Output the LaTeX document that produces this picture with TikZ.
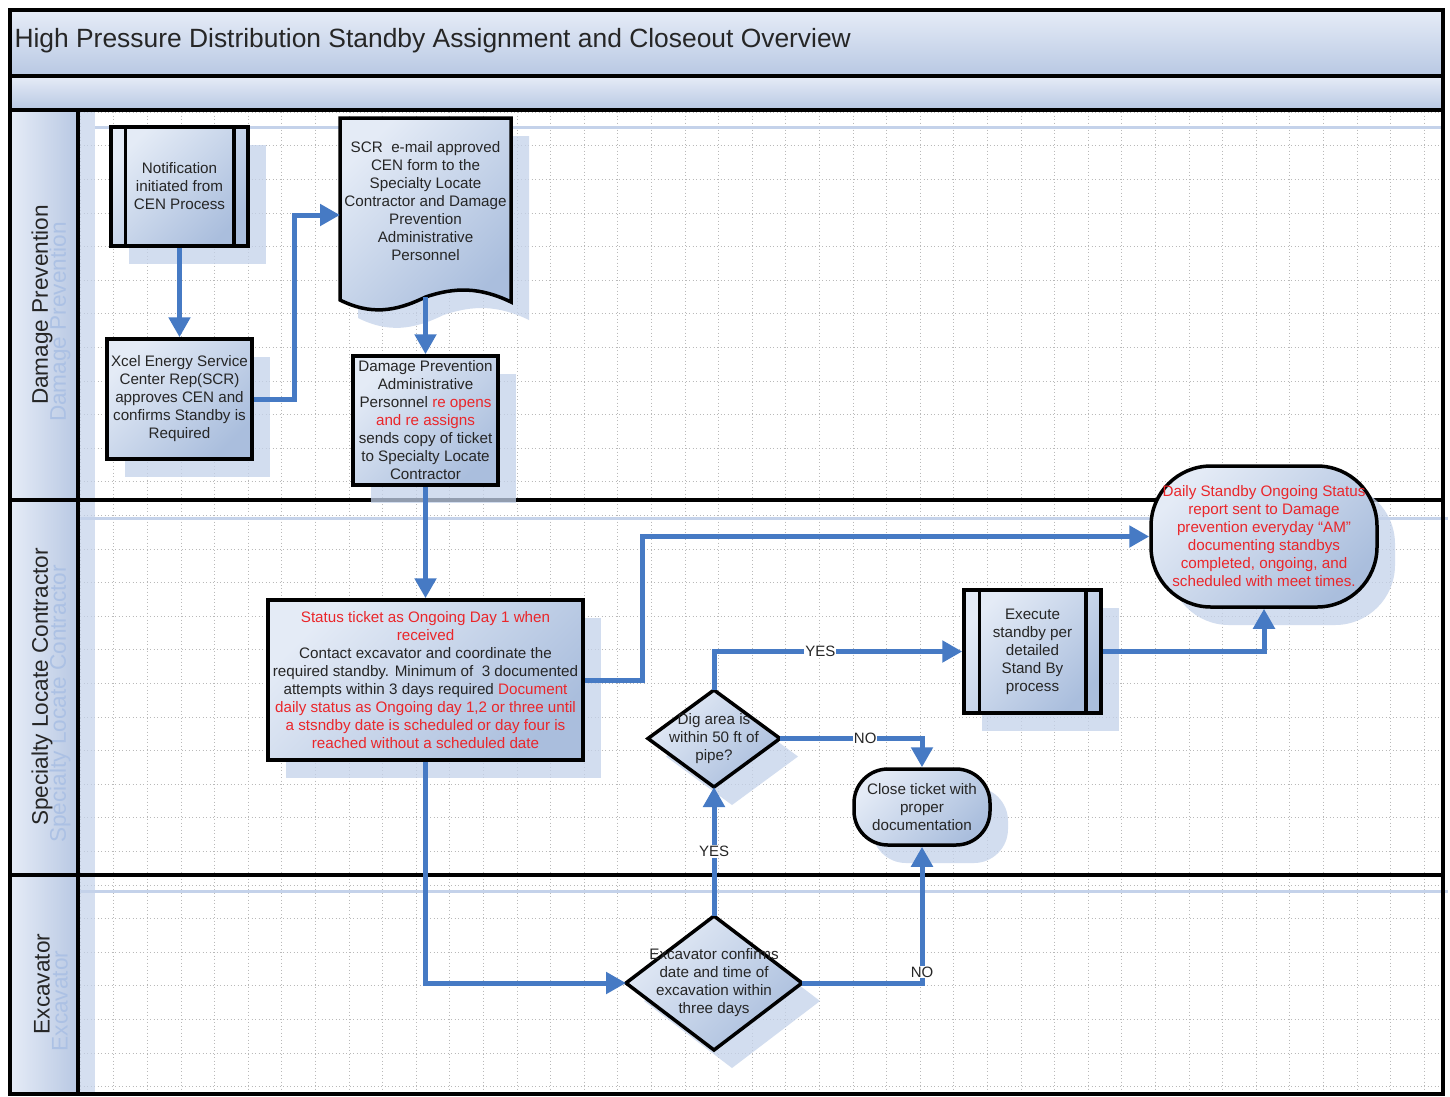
\documentclass[tikz,border=0pt]{standalone}
\usepackage{fontspec}
\setmainfont{Liberation Sans}
\usetikzlibrary{arrows.meta,shadows,calc}
\pgfdeclarelayer{bg}
\pgfdeclarelayer{mid}
\pgfsetlayers{bg,mid,main}
\definecolor{nlight}{RGB}{228,235,246}
\definecolor{ndark}{RGB}{170,190,221}
\definecolor{arrowc}{RGB}{70,122,196}
\definecolor{redt}{RGB}{234,38,42}
\definecolor{shadowc}{RGB}{196,210,234}
\definecolor{shadowtxt}{RGB}{172,193,228}
\definecolor{gridc}{RGB}{185,185,185}
\definecolor{bandlight}{RGB}{230,236,247}
\definecolor{banddark}{RGB}{184,200,227}
\tikzset{
  txt/.style={font=\fontsize{15.2}{18}\selectfont, align=center, text=black!85},
  fillshape/.style={draw=black, line width=3.5pt, top color=nlight, bottom color=ndark, shading angle=45},
  nshadow/.style={drop shadow={shadow xshift=18pt, shadow yshift=-18pt, fill=shadowc, opacity=.75}},
  boxnode/.style={txt, fillshape, nshadow, rectangle, inner sep=0pt},
  plainnode/.style={txt, rectangle, inner sep=0pt, outer sep=0pt},
  procline/.style={draw=black, line width=3.5pt},
  flow/.style={draw=arrowc, line width=5pt, -{Triangle[length=20pt,width=21pt]}},
  lbl/.style={font=\fontsize{15}{16}\selectfont, fill=white, inner sep=1pt, text=black!85},
  band/.style={draw=black, line width=3.5pt, top color=bandlight, bottom color=banddark},
  lanecell/.style={draw=black, line width=3.5pt, left color=bandlight, right color=banddark},
  lanebox/.style={draw=black, line width=3.5pt},
  lanetxt/.style={font=\fontsize{22.6}{26}\selectfont, rotate=90, text=black!85},
  laneshadowtxt/.style={font=\fontsize{22.6}{26}\selectfont, rotate=90, text=shadowtxt},
  gridline/.style={draw=gridc, line width=0.6pt, dash pattern=on 1pt off 2.5pt},
}
\begin{document}
\begin{tikzpicture}[x=1pt,y=-1pt]
\useasboundingbox (0,0) rectangle (1450,1096);
\begin{pgfonlayer}{bg}
  \fill[white] (0,0) rectangle (1450,1096);
  % grid
  \foreach \i in {0,...,40} {\draw[gridline] ({80+33.6*\i},112) -- ({80+33.6*\i},1094);}
  \foreach \j in {0,...,29} {\draw[gridline] (80,{112+33.6*\j}) -- (1443,{112+33.6*\j});}
  % lane shadows
  \fill[shadowc, opacity=.7] (80,112) rectangle (95,1094);
  \draw[shadowc, line width=3pt] (95,127) -- (1443,127);
  \draw[shadowc, line width=3pt] (25,518) -- (1448,518);
  \draw[shadowc, line width=3pt] (25,891) -- (1448,891);
  % title bands
  \path[band] (10,10) rectangle (1443,76);
  \path[band] (10,76) rectangle (1443,110);
  % lanes
  \path[lanebox] (10,110) rectangle (1443,500);
  \path[lanebox] (10,500) rectangle (1443,875);
  \path[lanebox] (10,875) rectangle (1443,1094);
  \path[lanecell] (10,110) rectangle (78,500);
  \path[lanecell] (10,500) rectangle (78,875);
  \path[lanecell] (10,875) rectangle (78,1094);
\end{pgfonlayer}

% title and lane labels
\node[anchor=west, font=\fontsize{26.4}{30}\selectfont, text=black!85] (title) at (11,41) {High Pressure Distribution Standby Assignment and Closeout Overview};
\node[laneshadowtxt] (lane1s) at (60,322) {Damage Prevention};
\node[lanetxt] (lane1) at (42,305) {Damage Prevention};
\node[laneshadowtxt] (lane2s) at (60,704) {Specialty Locate Contractor};
\node[lanetxt] (lane2) at (42,687) {Specialty Locate Contractor};
\node[laneshadowtxt] (lane3s) at (60,1001) {Excavator};
\node[lanetxt] (lane3) at (42,984) {Excavator};

% nodes
\node[boxnode, minimum width=137pt, minimum height=119pt] (notif) at (179.5,186.5)
  {Notification\\initiated from\\CEN Process};
\draw[procline] ([xshift=16pt]notif.north west) -- ([xshift=16pt]notif.south west);
\draw[procline] ([xshift=-16pt]notif.north east) -- ([xshift=-16pt]notif.south east);

\node[boxnode, minimum width=145pt, minimum height=120pt] (xcel) at (179.5,399)
  {Xcel Energy Service\\Center Rep(SCR)\\approves CEN and\\confirms Standby is\\Required};

\node[plainnode, minimum width=171pt, minimum height=166pt] (scr) at (425.5,201)
  {SCR\ \ e-mail approved\\CEN form to the\\Specialty Locate\\Contractor and Damage\\Prevention\\Administrative\\Personnel};
\coordinate (scrb) at (425.5,297);
\begin{pgfonlayer}{mid}
  \path[fillshape, nshadow] (scr.north west) -- (scr.north east) -- (511,302)
    .. controls (480,287) and (455,287) .. (scrb)
    .. controls (395,312) and (370,315) .. (340,300) -- cycle;
\end{pgfonlayer}

\node[boxnode, minimum width=145pt, minimum height=129pt] (dpa) at (425.5,420.5)
  {Damage Prevention\\Administrative\\Personnel \textcolor{redt}{re opens}\\\textcolor{redt}{and re assigns}\\sends copy of ticket\\to Specialty Locate\\Contractor};

\node[boxnode, minimum width=315pt, minimum height=160pt] (status) at (425.5,680)
  {\textcolor{redt}{Status ticket as Ongoing Day 1 when}\\\textcolor{redt}{received}\\Contact excavator and coordinate the\\required standby. Minimum of\ \ 3 documented\\attempts within 3 days required \textcolor{redt}{Document}\\\textcolor{redt}{daily status as Ongoing day 1,2 or three until}\\\textcolor{redt}{a stsndby date is scheduled or day four is}\\\textcolor{redt}{reached without a scheduled date}};

\node[plainnode, minimum width=132pt, minimum height=97pt] (dig) at (714,738.5)
  {Dig area is\\within 50 ft of\\pipe?};
\node[plainnode, minimum width=176pt, minimum height=134pt] (exc) at (714,983)
  {Excavator confirms\\date and time of\\excavation within\\three days};
\begin{pgfonlayer}{mid}
  \path[fillshape, nshadow] (dig.north) -- (dig.east) -- (dig.south) -- (dig.west) -- cycle;
  \path[fillshape, nshadow] (exc.north) -- (exc.east) -- (exc.south) -- (exc.west) -- cycle;
\end{pgfonlayer}

\node[boxnode, rounded corners=34pt, minimum width=136pt, minimum height=76pt] (close) at (922,807)
  {Close ticket with\\proper\\documentation};

\node[boxnode, minimum width=137pt, minimum height=123pt] (execute) at (1032.5,651.5)
  {Execute\\standby per\\detailed\\Stand By\\process};
\draw[procline] ([xshift=17pt]execute.north west) -- ([xshift=17pt]execute.south west);
\draw[procline] ([xshift=-17pt]execute.north east) -- ([xshift=-17pt]execute.south east);

\node[boxnode, rounded corners=60pt, minimum width=226pt, minimum height=141pt, text=redt] (daily) at (1264,536.5)
  {Daily Standby Ongoing Status\\report sent to Damage\\prevention everyday “AM”\\documenting standbys\\completed, ongoing, and\\scheduled with meet times.};

% connectors
\draw[flow] (notif.south) -- (xcel.north);
\draw[flow] (xcel.east) -- ++(41,0) |- ([yshift=-14pt]scr.west);
\draw[flow] (scrb) -- (dpa.north);
\draw[flow] (dpa.south) -- (status.north);
\draw[flow] (status.east) -- ++(58,0) |- (daily.west);
\draw[flow] (status.south) |- (exc.west);
\draw[flow] (exc.north) -- node[lbl] {YES} (dig.south);
\draw[flow] (exc.east) -| node[lbl, pos=0.5, yshift=11pt] {NO} (close.south);
\draw[flow] (dig.north) |- node[lbl, pos=0.714] {YES} (execute.west);
\draw[flow] (dig.east) -| node[lbl, pos=0.3] {NO} (close.north);
\draw[flow] (execute.east) -| (daily.south);
\end{tikzpicture}
\end{document}
